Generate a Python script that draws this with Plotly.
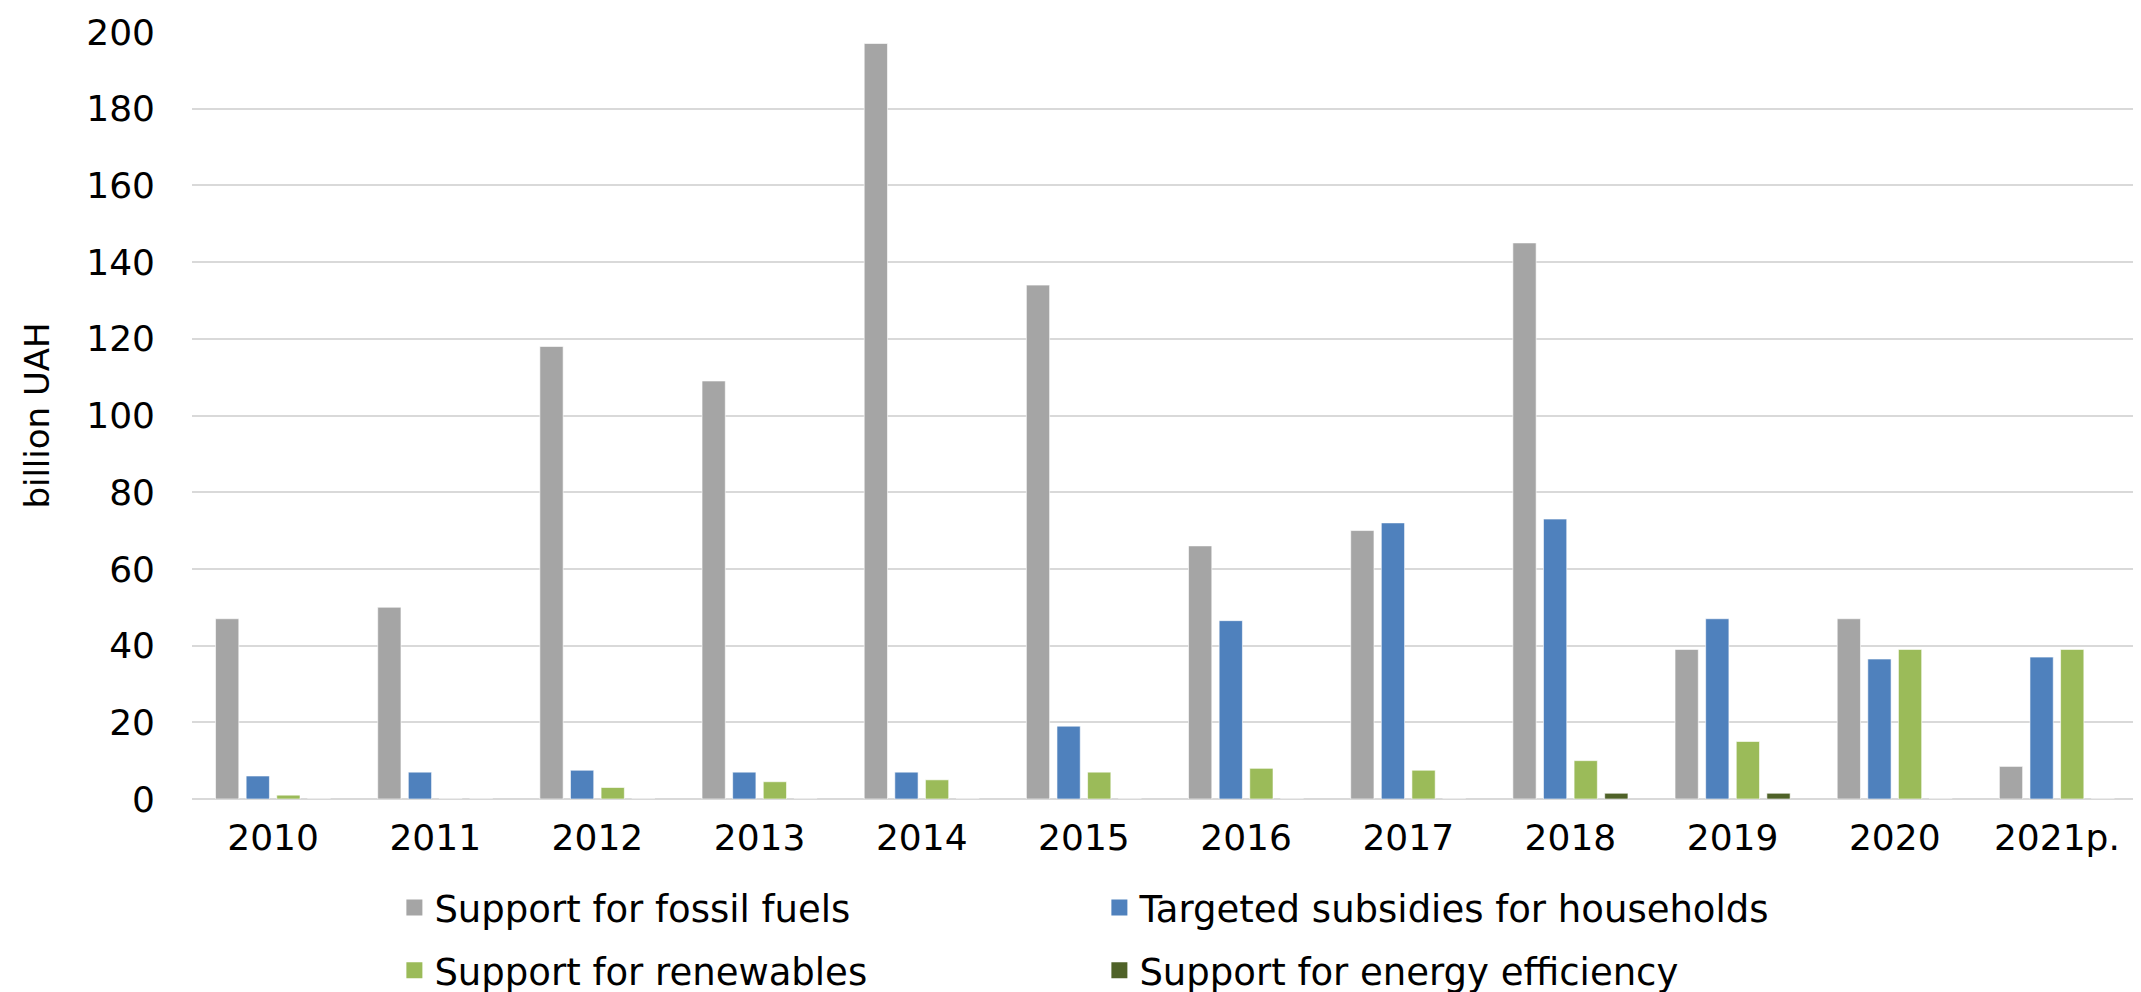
import plotly.graph_objects as go

years = ["2010", "2011", "2012", "2013", "2014", "2015", "2016", "2017", "2018", "2019", "2020", "2021p."]
fossil = [47, 50, 118, 109, 197, 134, 66, 70, 145, 39, 47, 8.5]
households = [6, 7, 7.5, 7, 7, 19, 46.5, 72, 73, 47, 36.5, 37]
renewables = [1, 0, 3, 4.5, 5, 7, 8, 7.5, 10, 15, 39, 39]
efficiency = [0, 0, 0, 0, 0, 0, 0, 0, 1.5, 1.5, 0, 0]

names = ["Support for fossil fuels", "Targeted subsidies for households",
         "Support for renewables", "Support for energy efficiency"]
colors = ["#a5a5a5", "#4f81bd", "#9bbb59", "#4f6228"]
series = [fossil, households, renewables, efficiency]
legends = ["legend", "legend", "legend2", "legend2"]

FONT = "DejaVu Sans, Liberation Sans, Arial, sans-serif"
FS = 36

fig = go.Figure()
for name, vals, col in zip(names, series, colors):
    fig.add_trace(go.Bar(
        x=years, y=vals, name=name, showlegend=False,
        marker=dict(color=col, line=dict(color="rgba(255,255,255,0.6)", width=1)),
    ))
# legend entries with larger square swatches
for name, col, lg in zip(names, colors, legends):
    fig.add_trace(go.Scatter(
        x=[None], y=[None], mode="markers", name=name, legend=lg,
        marker=dict(symbol="square", size=19, color=col),
        hoverinfo="skip",
    ))

legend_common = dict(
    orientation="h", xanchor="left", yanchor="middle",
    font=dict(family=FONT, size=37, color="#000000"),
    entrywidth=660, entrywidthmode="pixels",
    bgcolor="rgba(0,0,0,0)", itemwidth=30,
)

fig.update_layout(
    width=2141, height=992,
    margin=dict(l=184, r=11, t=24, b=201, autoexpand=False),
    paper_bgcolor="white", plot_bgcolor="white",
    barmode="group", bargap=0.245, bargroupgap=0.24,
    font=dict(family=FONT, size=FS, color="#000000"),
    showlegend=True,
    legend=dict(x=0.104, y=-0.142, **legend_common),
    legend2=dict(x=0.104, y=-0.224, **legend_common),
    xaxis=dict(
        type="category", showgrid=False, showline=False, ticks="",
        tickfont=dict(family=FONT, size=FS, color="#000000"),
        ticklabelstandoff=14,
    ),
    yaxis=dict(
        range=[0, 200], dtick=20, showgrid=True, gridcolor="#d9d9d9", gridwidth=2,
        zeroline=True, zerolinecolor="#d9d9d9", zerolinewidth=2,
        tickfont=dict(family=FONT, size=FS, color="#000000"),
        ticklabelstandoff=36,
        title=dict(text="billion UAH", font=dict(family=FONT, size=34, color="#000000"), standoff=26),
    ),
)

fig.write_html("out.html")
